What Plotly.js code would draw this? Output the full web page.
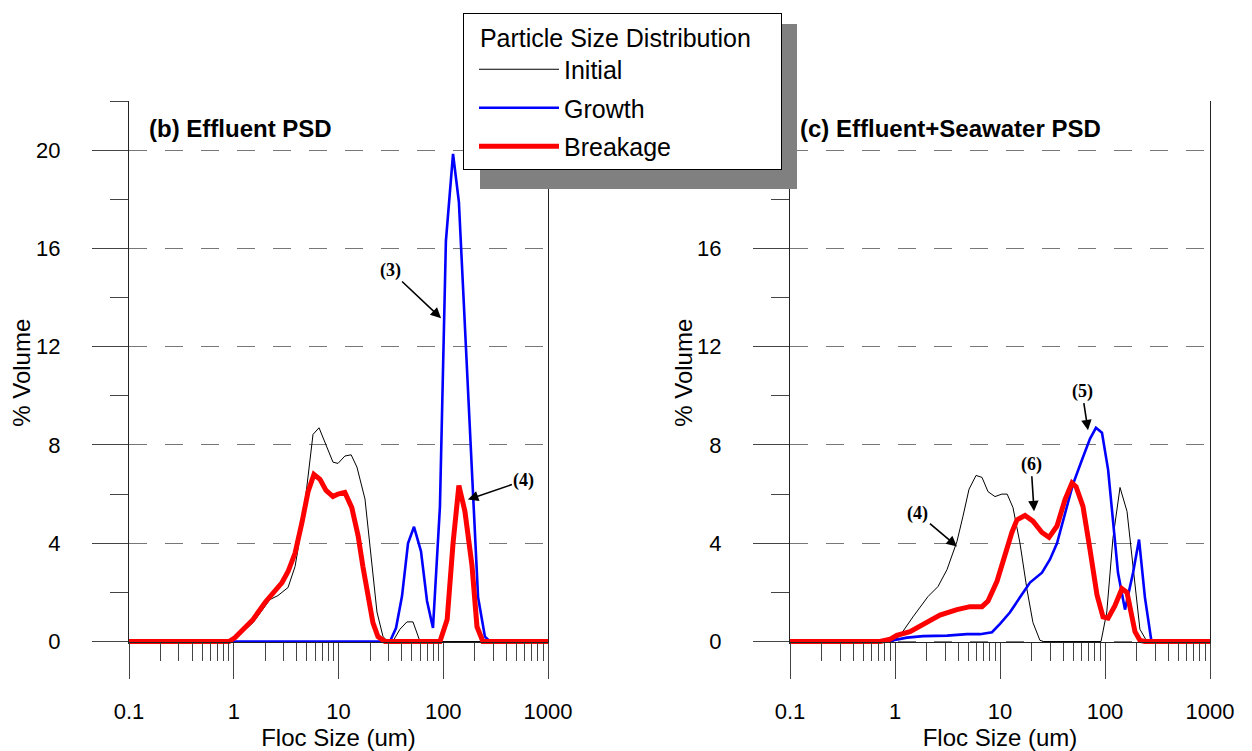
<!DOCTYPE html>
<html>
<head>
<meta charset="utf-8">
<script src="https://cdn.plot.ly/plotly-3.0.1.min.js"></script>
<style>html,body{margin:0;padding:0;background:#fff;}#chart{width:1252px;height:751px;}</style>
</head>
<body>
<div id="chart"></div>
<script>
// ---- data (floc size in um, % volume) ----
// (b) Effluent PSD
const bInitX  = [0.1, 0.9, 1.0, 1.53, 2.22, 2.64, 3.3, 3.85, 4.58, 5.71, 6.52, 7.77, 8.86, 9.89, 11.5, 13.2, 15.0, 17.9, 20.5, 23.3, 26.6, 29.7, 33, 38.6, 45, 51.4, 60, 1000];
const bInitY  = [0, 0, 0.05, 0.77, 1.71, 1.87, 2.2, 3.06, 4.97, 8.43, 8.7, 7.9, 7.3, 7.25, 7.55, 7.6, 7.1, 5.8, 3.5, 1.2, 0.2, 0, 0, 0.5, 0.8, 0.8, 0, 0];
const bGrowX  = [0.1, 31, 35.4, 40.4, 46.1, 52.6, 61.3, 70, 79.8, 93, 106, 124, 141, 165, 188, 215, 250, 279, 1000];
const bGrowY  = [0, 0, 0.55, 1.85, 4.0, 4.67, 3.67, 1.65, 0.55, 5.5, 16.3, 19.85, 17.9, 12, 6.8, 1.8, 0.2, 0, 0];
const bBreakX = [0.1, 0.9, 1.03, 1.22, 1.53, 1.99, 2.37, 2.89, 3.30, 3.85, 4.48, 5.12, 5.83, 6.66, 7.60, 8.86, 9.89, 11.5, 13.4, 15.4, 17.1, 19.1, 21.3, 23.8, 27.8, 93, 109, 124, 141, 161, 188, 210, 239, 1000];
const bBreakY = [0, 0, 0.16, 0.49, 0.9, 1.59, 2.0, 2.4, 2.85, 3.6, 4.85, 6.1, 6.8, 6.6, 6.15, 5.9, 6.0, 6.07, 5.45, 4.3, 3.05, 1.85, 0.77, 0.2, 0, 0, 0.9, 4.0, 6.35, 5.3, 3.1, 0.6, 0, 0];
// (c) Effluent+Seawater PSD
const cInitX  = [0.1, 0.96, 1.12, 1.48, 2.06, 2.57, 3.13, 3.57, 3.89, 4.44, 5.07, 5.91, 6.74, 7.69, 8.96, 10.4, 11.7, 13.3, 15.5, 18.1, 20.6, 24.0, 26, 91.6, 104, 119, 139, 162, 181, 202, 215, 251, 1000];
const cInitY  = [0, 0, 0.25, 1.0, 1.83, 2.24, 2.93, 3.62, 4.07, 5.1, 6.2, 6.76, 6.68, 6.1, 5.9, 6.0, 6.0, 5.45, 4.0, 2.1, 0.77, 0.05, 0, 0, 1.2, 4.2, 6.27, 5.3, 3.5, 1.5, 0.5, 0, 0];
const cGrowX  = [0.1, 0.84, 1.30, 1.85, 3.13, 4.85, 6.45, 8.39, 10, 12.4, 15.5, 19.3, 25.1, 29.9, 34.9, 41.6, 49.5, 60.4, 71.9, 82, 93.6, 107, 119, 133, 155, 185, 211, 240, 277, 1000];
const cGrowY  = [0, 0, 0.16, 0.22, 0.24, 0.3, 0.3, 0.38, 0.72, 1.18, 1.8, 2.4, 2.8, 3.34, 4.0, 5.25, 6.4, 7.4, 8.25, 8.7, 8.5, 7.0, 4.85, 2.8, 1.3, 2.8, 4.15, 1.8, 0, 0];
const cBreakX = [0.1, 0.72, 0.90, 1.04, 1.39, 2.02, 2.68, 3.89, 5.18, 6.74, 7.69, 9.36, 11.2, 13.0, 14.5, 17.3, 20.6, 25.1, 29.3, 34.9, 41.6, 48.5, 53, 61.7, 71.9, 83.9, 95.7, 107, 124, 145, 162, 181, 193, 215, 240, 1000];
const cBreakY = [0, 0, 0.1, 0.25, 0.4, 0.77, 1.08, 1.3, 1.42, 1.42, 1.65, 2.45, 3.6, 4.45, 4.95, 5.13, 4.9, 4.44, 4.24, 4.7, 5.78, 6.45, 6.3, 5.5, 3.75, 1.9, 1.0, 0.95, 1.45, 2.15, 2.0, 1.0, 0.4, 0.05, 0, 0];

const seriesNames = ['Initial', 'Growth', 'Breakage'];
const xTickVals = [0.1, 1, 10, 100, 1000];
const xTickText = ['0.1', '1', '10', '100', '1000'];
const yTickVals = [0, 4, 8, 12, 16, 20];
const yTickText = ['0', '4', '8', '12', '16', '20'];
const panelTitles = ['(b) Effluent PSD', '(c) Effluent+Seawater PSD'];
const legendTitle = 'Particle Size Distribution';
const xTitle = 'Floc Size (um)';
const yTitle = '% Volume';

// minor log ticks 2..9 per decade
const xMinor = [];
[0.1, 1, 10, 100].forEach(d => { for (let k = 2; k <= 9; k++) xMinor.push(+(k * d).toPrecision(3)); });

const FONT = 'Arial, "Liberation Sans", sans-serif';
const SERIF = '"Times New Roman", "Liberation Serif", serif';
const styles = [
  {color: '#000000', width: 1},
  {color: '#0000ff', width: 2.6},
  {color: '#ff0000', width: 5}
];

function tr(x, y, i, xa, ya, leg) {
  return {x: x, y: y, type: 'scatter', mode: 'lines', name: seriesNames[i], legendgroup: 'g' + i,
    xaxis: xa, yaxis: ya, showlegend: leg, line: {color: styles[i].color, width: styles[i].width}, hoverinfo: 'skip'};
}
const data = [
  tr(bInitX, bInitY, 0, 'x', 'y', true),
  tr(bGrowX, bGrowY, 1, 'x', 'y', true),
  tr(bBreakX, bBreakY, 2, 'x', 'y', true),
  tr(cInitX, cInitY, 0, 'x2', 'y2', false),
  tr(cGrowX, cGrowY, 1, 'x2', 'y2', false),
  tr(cBreakX, cBreakY, 2, 'x2', 'y2', false)
];

const W = 1252, H = 751;
const mL = 129, mR = 42, mT = 101, mB = H - 644.5;
const PW = W - mL - mR, PH = 644.5 - 101;
const zeroPos = (644.5 - 642) / PH;

function xAxis(domain) {
  return {type: 'log', range: [-1, 3], domain: domain, anchor: 'free', position: zeroPos,
    tickmode: 'array', tickvals: xTickVals, ticktext: xTickText,
    ticks: 'outside', ticklen: 36, tickwidth: 1, tickcolor: '#444',
    showline: true, mirror: false, linecolor: '#222', linewidth: 1,
    showgrid: false, zeroline: false,
    tickfont: {family: FONT, size: 22, color: '#000'}, ticklabelstandoff: 14,
    minor: {tickmode: 'array', tickvals: xMinor, ticks: 'outside', ticklen: 18, tickcolor: '#444', tickwidth: 1, showgrid: false},
    title: {text: xTitle, font: {family: FONT, size: 24, color: '#000'}, standoff: 2}};
}
function topAxis(over, anchorY, domain) {
  return {type: 'log', range: [-1, 3], domain: domain, overlaying: over, anchor: anchorY, side: 'top',
    showline: true, linecolor: '#222', linewidth: 1, ticks: '', showticklabels: false,
    showgrid: false, zeroline: false};
}
function yAxis(anchorX) {
  return {range: [-0.1, 22], domain: [0, 1], anchor: anchorX,
    tickmode: 'array', tickvals: yTickVals, ticktext: yTickText,
    ticks: 'outside', ticklen: 36, tickwidth: 1, tickcolor: '#444',
    showline: true, mirror: true, linecolor: '#222', linewidth: 1,
    showgrid: true, gridcolor: '#777', gridwidth: 1, griddash: '18px,18px', zeroline: false,
    tickfont: {family: FONT, size: 22, color: '#000'}, ticklabelstandoff: 27,
    minor: {dtick: 2, tick0: 0, ticks: 'outside', ticklen: 18, tickcolor: '#444', tickwidth: 1, showgrid: false}};
}

const d1 = [0, (548 - mL) / PW];
const d2 = [(790 - mL) / PW, 1];

function note(text, xref, yref, x, y, ax, ay) {
  return {text: '<b>' + text + '</b>', xref: xref, yref: yref, x: Math.log10(x), y: y, ax: ax, ay: ay,
    showarrow: true, arrowhead: 2, arrowsize: 1.3, arrowwidth: 1.6, arrowcolor: '#000', standoff: 0,
    font: {family: SERIF, size: 18, color: '#000'}};
}
const px2x = px => (px - mL) / PW;
const px2y = py => (644.5 - py) / PH;
function yTitleNote(px) {
  return {text: yTitle, xref: 'paper', yref: 'paper', x: px2x(px), y: px2y(373), textangle: -90,
    xanchor: 'center', yanchor: 'middle', showarrow: false, font: {family: FONT, size: 24, color: '#000'}};
}

const layout = {
  width: W, height: H,
  margin: {l: mL, r: mR, t: mT, b: mB, pad: 0, autoexpand: false},
  paper_bgcolor: '#fff', plot_bgcolor: '#fff',
  font: {family: FONT, color: '#000'},
  xaxis: xAxis(d1),
  xaxis2: xAxis(d2),
  xaxis3: topAxis('x', 'y', d1),
  xaxis4: topAxis('x2', 'y2', d2),
  yaxis: yAxis('x'),
  yaxis2: yAxis('x2'),
  showlegend: true,
  legend: {xref: 'container', yref: 'container', x: 463 / W, y: 1 - 13 / H, xanchor: 'left', yanchor: 'top',
    bgcolor: '#fff', bordercolor: '#000', borderwidth: 1,
    font: {family: FONT, size: 25, color: '#000'},
    title: {text: '\u00A0\u00A0' + legendTitle + '\u00A0\u00A0\u00A0\u00A0', font: {family: FONT, size: 25, color: '#000'}},
    indentation: 10, itemwidth: 80, tracegroupgap: 3},
  shapes: [
    {type: 'rect', xref: 'paper', yref: 'paper', layer: 'above',
     x0: px2x(480), x1: px2x(797), y0: px2y(189), y1: px2y(24),
     fillcolor: '#808080', line: {width: 0}}
  ],
  annotations: [
    yTitleNote(22),
    yTitleNote(684),
    {text: '<b>' + panelTitles[0] + '</b>', xref: 'x domain', yref: 'y domain', x: (147 - 129) / 419, y: px2y(129),
     xanchor: 'left', yanchor: 'middle', showarrow: false, font: {family: FONT, size: 24, color: '#000'}},
    {text: '<b>' + panelTitles[1] + '</b>', xref: 'x2 domain', yref: 'y2 domain', x: (798 - 790) / 420, y: px2y(129),
     xanchor: 'left', yanchor: 'middle', showarrow: false, font: {family: FONT, size: 24, color: '#000'}},
    note('(3)', 'x', 'y', 95.3, 13.16, -51, -48),
    note('(4)', 'x', 'y', 172, 5.78, 56, -19),
    note('(4)', 'x2', 'y2', 3.89, 3.87, -39, -33),
    note('(6)', 'x2', 'y2', 21.1, 5.3, -3, -47),
    note('(5)', 'x2', 'y2', 68.9, 8.6, -6, -39)
  ]
};

Plotly.newPlot('chart', data, layout, {staticPlot: true, displayModeBar: false});
</script>
</body>
</html>
